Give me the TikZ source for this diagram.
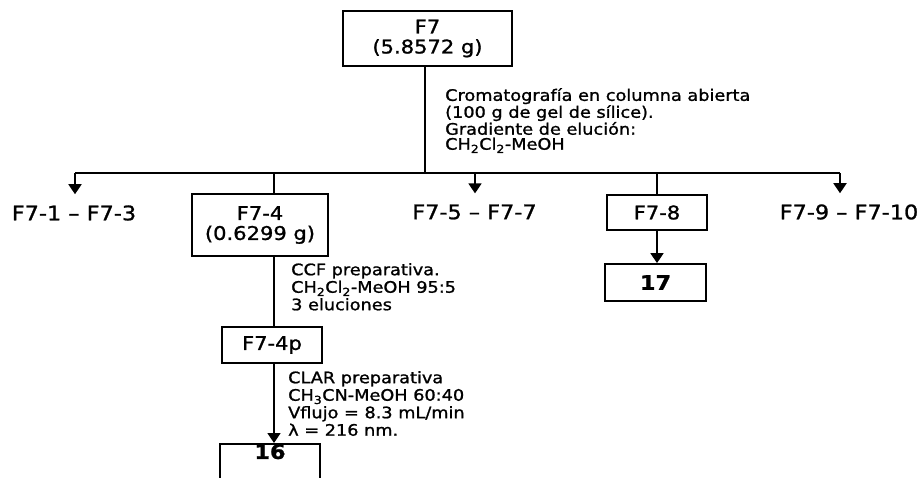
\documentclass[tikz,border=0pt]{standalone}
\usepackage{fontspec}
\setmainfont{DejaVu Sans}[FakeStretch=1.12,FakeBold=1.2]
\usetikzlibrary{arrows.meta}
\begin{document}
\begin{tikzpicture}[x=1pt,y=-1pt,
  line/.style={line width=1.8pt},
  arr/.style={line width=1.8pt,-{Triangle[length=10pt,width=13pt]}},
  box/.style={draw,line width=1.8pt,align=center,inner sep=0pt,font=\fontsize{18.8}{20}\selectfont},
  numbox/.style={draw,line width=1.8pt,inner sep=0pt,font=\fontsize{20}{20}\selectfont\bfseries},
  branch/.style={inner xsep=0pt,inner ysep=11pt,font=\fontsize{20}{20}\selectfont},
  note/.style={anchor=north west,inner sep=0pt,align=left,font=\fontsize{15.8}{15}\selectfont},
  notewide/.style={note,font=\fontsize{15.8}{17.5}\selectfont}]
\useasboundingbox (0,0) rectangle (923,477);
\clip (0,0) rectangle (923,477);
% boxes
\node[box,minimum width=169pt,minimum height=55pt] (F7) at (427.5,38.5) {F7\\(5.8572 g)};
\node[box,minimum width=136pt,minimum height=62pt] (F74) at (260,225) {F7-4\\(0.6299 g)};
\node[box,minimum width=100pt,minimum height=35pt] (F78) at (657,212.5) {F7-8};
\node[numbox,minimum width=101pt,minimum height=37pt] (b17) at (655.5,282.5) {17};
\node[box,minimum width=100pt,minimum height=36pt] (F74p) at (272,345) {F7-4p};
\node[numbox,anchor=north,minimum width=100pt,inner ysep=4pt,text height=11pt,text depth=40pt] (b16) at (270,443) {16};
% branch labels
\node[branch] (l1) at (74,213) {F7-1 – F7-3};
\node[branch] (l5) at (474.5,212) {F7-5 – F7-7};
\node[branch] (l9) at (849,212) {F7-9 – F7-10};
% notes
\node[note] (n1) at (445,88) {Cromatografía en columna abierta\\(100 g de gel de sílice).\\Gradiente de elución:\\CH\textsubscript{2}Cl\textsubscript{2}-MeOH};
\node[notewide] (n2) at (291,263) {CCF preparativa.\\CH\textsubscript{2}Cl\textsubscript{2}-MeOH 95:5\\3 eluciones};
\node[notewide] (n3) at (288,371) {CLAR preparativa\\CH\textsubscript{3}CN-MeOH 60:40\\Vflujo = 8.3 mL/min\\λ = 216 nm.};
% junction coordinates
\coordinate (j) at (425,173);
\coordinate (a1) at (75,173);
\coordinate (a4) at (274,173);
\coordinate (a5) at (475,173);
\coordinate (a8) at (657,173);
\coordinate (a9) at (840,173);
% connectors
\draw[line] (j |- F7.south) -- (j);
\draw[line] (a1) -- (a9);
\draw[arr] (a1) -- (a1 |- l1.north);
\draw[arr] (a5) -- (a5 |- l5.north);
\draw[arr] (a9) -- (a9 |- l9.north);
\draw[line] (a4) -- (a4 |- F74.north);
\draw[line] (a8) -- (a8 |- F78.north);
\draw[line] (a4 |- F74.south) -- (a4 |- F74p.north);
\draw[arr] (a4 |- F74p.south) -- (a4 |- b16.north);
\draw[arr] (a8 |- F78.south) -- (a8 |- b17.north);
\end{tikzpicture}
\end{document}
